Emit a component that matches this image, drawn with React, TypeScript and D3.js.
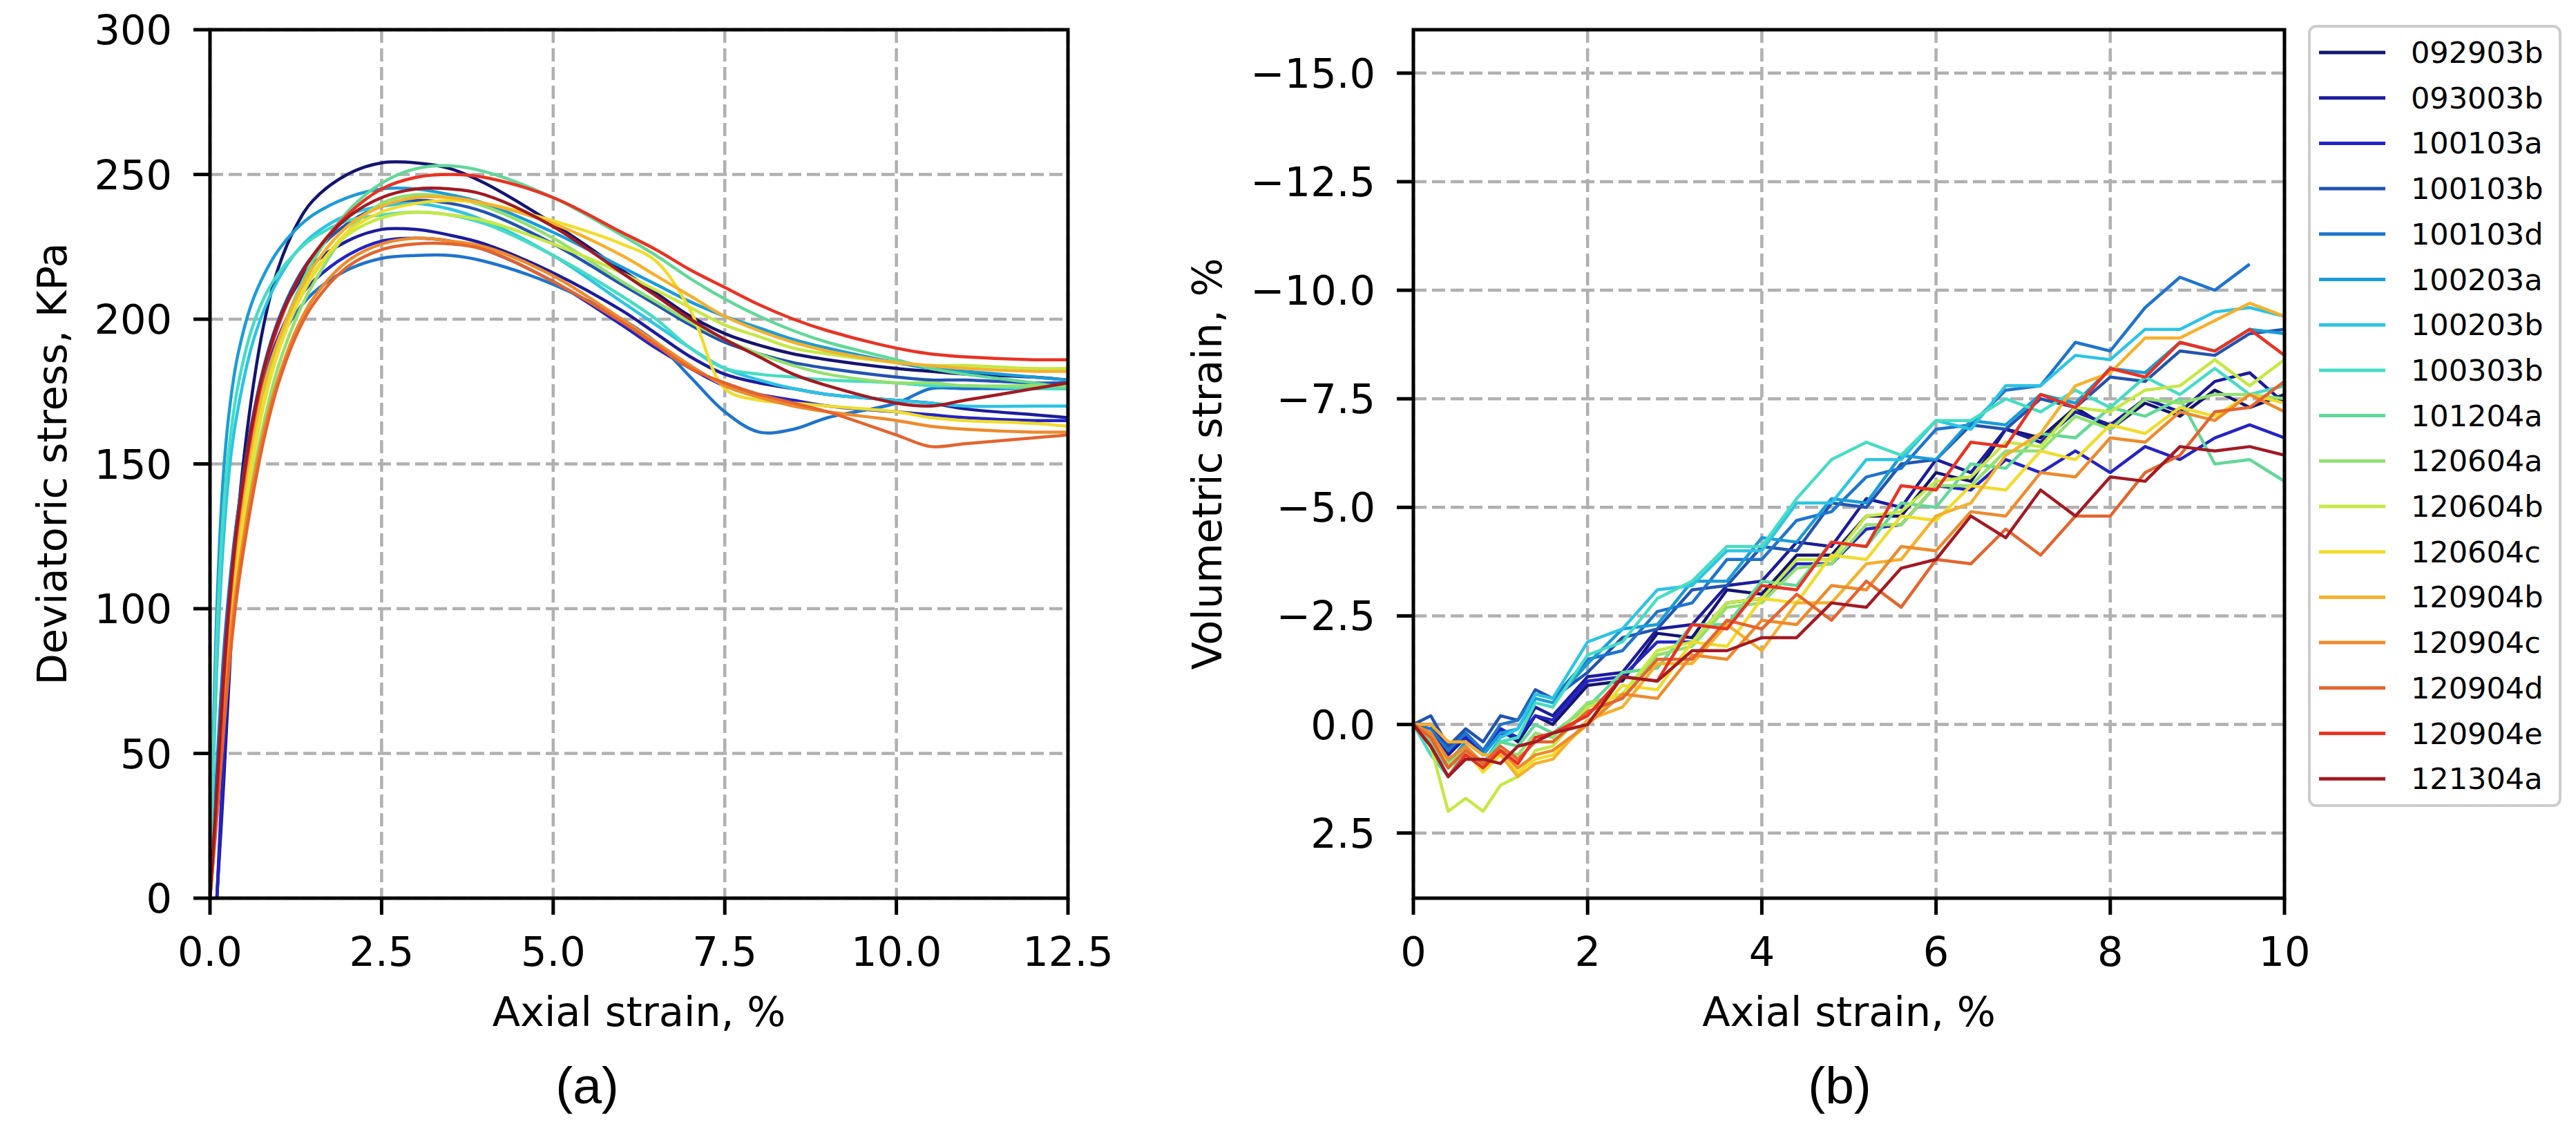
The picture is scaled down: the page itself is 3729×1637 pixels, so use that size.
import React from 'react';
import * as d3 from 'd3';

// ---------- data ----------
const SERIES = ['092903b', '093003b', '100103a', '100103b', '100103d', '100203a', '100203b', '100303b', '101204a', '120604a', '120604b', '120604c', '120904b', '120904c', '120904d', '120904e', '121304a'];

// panel (a): deviatoric stress (KPa) vs axial strain (%)
const XA = [0, 0.1, 0.2, 0.3, 0.4, 0.6, 0.8, 1.0, 1.25, 1.5, 2.0, 2.5, 3.0, 3.5, 4.0, 5.0, 6.0, 6.5, 7.0, 7.5, 8.0, 8.5, 9.0, 10.0, 10.5, 11.0, 12.0, 12.5];
const qa_092903b = [null, 0, 45, 95, 130, 172, 200, 218, 232, 241, 250, 254, 254, 252, 247, 233, 217, 209, 201, 195, 191, 188, 186, 183, 182, 181, 180, 179];
const qa_093003b = [null, 0, 40, 85, 118, 158, 183, 199, 211, 219, 227, 231, 231, 229, 226, 216, 203, 195, 187, 181, 178, 176, 174, 172, 171, 169, 167, 166];
const qa_100103a = [null, 0, 50, 92, 120, 156, 180, 194, 206, 213, 222, 227, 228, 227, 224, 213, 198, 190, 183, 177, 174, 172, 170, 168, 167, 166, 165, 165];
const qa_100103b = [0, 40, 80, 110, 132, 163, 185, 200, 213, 222, 233, 239, 241, 240, 237, 226, 212, 205, 198, 192, 188, 185, 183, 180, 179, 179, 178, 178];
const qa_100103d = [0, 45, 85, 112, 132, 160, 180, 192, 202, 209, 217, 221, 222, 222, 220, 212, 200, 192, 180, 168, 161, 162, 166, 171, 176, 176, 176, 176];
const qa_100203a = [0, 100, 148, 172, 187, 205, 216, 224, 231, 236, 242, 245, 245, 243, 240, 230, 218, 212, 206, 201, 197, 193, 190, 185, 183, 182, 180, 179];
const qa_100203b = [0, 80, 125, 152, 168, 190, 204, 214, 223, 229, 236, 239, 240, 238, 234, 222, 206, 198, 190, 183, 179, 176, 174, 172, 171, 170, 170, 170];
const qa_100303b = [0, 90, 135, 160, 176, 196, 208, 216, 223, 228, 234, 236, 237, 236, 233, 222, 208, 200, 190, 183, 181, 180, 179, 178, 177, 177, 176, 176];
const qa_101204a = [0, 30, 65, 95, 118, 150, 174, 192, 208, 220, 237, 247, 252, 253, 251, 242, 229, 222, 214, 207, 201, 196, 192, 186, 183, 181, 178, 176];
const qa_120604a = [0, 28, 60, 88, 110, 142, 166, 184, 200, 212, 230, 240, 243, 242, 239, 228, 213, 206, 199, 193, 188, 184, 181, 178, 178, 177, 177, 177];
const qa_120604b = [0, 32, 68, 98, 120, 152, 176, 192, 206, 216, 229, 235, 237, 236, 234, 226, 216, 210, 204, 198, 194, 190, 188, 185, 184, 184, 183, 183];
const qa_120604c = [0, 30, 64, 94, 116, 148, 172, 189, 204, 215, 230, 237, 240, 241, 240, 234, 226, 220, 203, 176, 172, 171, 170, 168, 166, 165, 164, 163];
const qa_120904b = [0, 35, 72, 102, 124, 156, 178, 193, 207, 218, 232, 239, 242, 242, 240, 233, 222, 215, 208, 201, 196, 192, 189, 185, 184, 183, 182, 182];
const qa_120904c = [0, 30, 62, 90, 110, 140, 163, 180, 196, 207, 220, 226, 228, 227, 225, 215, 200, 192, 184, 177, 173, 170, 168, 165, 163, 162, 161, 161];
const qa_120904d = [0, 28, 58, 85, 106, 136, 160, 178, 194, 205, 218, 224, 226, 226, 224, 213, 199, 191, 183, 178, 174, 171, 168, 160, 156, 157, 159, 160];
const qa_120904e = [0, 35, 75, 105, 128, 160, 183, 198, 212, 222, 236, 245, 249, 250, 249, 242, 230, 224, 217, 211, 205, 200, 196, 190, 188, 187, 186, 186];
const qa_121304a = [0, 38, 78, 108, 130, 162, 184, 199, 212, 222, 235, 242, 245, 245, 243, 232, 216, 208, 200, 193, 187, 181, 177, 171, 170, 172, 176, 178];

// panel (b): volumetric strain (%) vs axial strain (%)
const XB = [0, 0.2, 0.4, 0.6, 0.8, 1.0, 1.2, 1.4, 1.6, 2.0, 2.4, 2.8, 3.2, 3.6, 4.0, 4.4, 4.8, 5.2, 5.6, 6.0, 6.4, 6.8, 7.2, 7.6, 8.0, 8.4, 8.8, 9.2, 9.6, 10.0];
const ev_092903b = [0, 0.0, 0.5, 0.2, 0.6, 0.1, 0.4, -0.2, 0.0, -0.9, -1.0, -2.1, -2.0, -3.1, -3.0, -3.9, -3.9, -4.8, -4.8, -5.8, -5.6, -6.8, -6.6, -7.3, -6.8, -7.4, -7.1, -7.7, -7.3, -7.6];
const ev_093003b = [0, 0.2, 0.7, 0.3, 0.7, 0.2, 0.3, -0.4, -0.2, -1.1, -1.2, -2.2, -2.3, -3.2, -3.3, -4.2, -4.1, -5.2, -5.0, -6.1, -5.8, -6.8, -6.5, -7.2, -6.9, -7.5, -7.2, -7.9, -8.1, -7.4];
const ev_100103a = [0, 0.0, 0.6, 0.3, 0.6, 0.1, 0.3, -0.2, -0.1, -1.0, -1.1, -1.9, -1.9, -2.8, -2.9, -3.7, -3.7, -4.5, -4.6, -5.5, -5.4, -6.1, -5.8, -6.3, -5.8, -6.4, -6.1, -6.6, -6.9, -6.6];
const ev_100103b = [0, -0.2, 0.5, 0.1, 0.4, -0.2, -0.1, -0.8, -0.6, -1.2, -2.0, -2.2, -3.1, -3.2, -4.1, -4.0, -5.1, -5.0, -6.0, -6.1, -6.9, -6.8, -7.5, -7.3, -8.0, -7.9, -8.6, -8.5, -9.0, -9.1];
const ev_100103d = [0, 0.1, 0.6, 0.2, 0.6, 0.0, -0.1, -0.7, -0.6, -1.5, -1.7, -2.6, -2.8, -3.8, -3.8, -4.7, -4.9, -5.7, -5.9, -6.8, -6.9, -7.7, -7.8, -8.8, -8.6, -9.6, -10.3, -10.0, -10.6, null];
const ev_100203a = [0, 0.3, 0.9, 0.4, 0.7, 0.2, 0.1, -0.6, -0.5, -1.4, -2.2, -2.3, -3.3, -3.3, -4.3, -4.2, -5.2, -5.1, -6.2, -6.1, -7.0, -6.9, -7.6, -7.4, -8.2, -8.1, -8.8, -8.6, -9.1, -9.0];
const ev_100203b = [0, 0.5, 1.0, 0.5, 0.9, 0.3, 0.1, -0.7, -0.6, -1.9, -2.2, -3.1, -3.2, -4.0, -4.0, -5.1, -5.1, -6.1, -6.1, -7.0, -6.8, -7.8, -7.8, -8.5, -8.4, -9.1, -9.1, -9.5, -9.6, -9.4];
const ev_100303b = [0, 0.7, 1.2, 0.6, 1.0, 0.4, 0.3, -0.5, -0.4, -1.6, -1.9, -2.9, -3.3, -4.1, -4.1, -5.2, -6.1, -6.5, -6.2, -7.0, -7.0, -7.5, -7.2, -7.7, -7.3, -8.0, -7.6, -8.2, -7.6, -7.8];
const ev_101204a = [0, 0.4, 1.0, 0.5, 0.9, 0.4, 0.5, 0.0, 0.2, -0.4, -1.2, -1.3, -2.3, -2.3, -3.3, -3.2, -4.2, -4.1, -5.1, -5.0, -6.0, -5.9, -6.7, -6.6, -7.3, -7.1, -7.5, -6.0, -6.1, -5.6];
const ev_120604a = [0, 0.3, 0.9, 0.6, 1.0, 0.6, 0.7, 0.2, 0.3, -0.5, -0.7, -1.6, -1.8, -2.7, -2.8, -3.6, -3.7, -4.6, -4.6, -5.5, -5.5, -6.3, -6.3, -7.1, -6.8, -7.5, -7.4, -7.6, -7.6, -7.5];
const ev_120604b = [0, 0.5, 2.0, 1.7, 2.0, 1.4, 1.2, 0.6, 0.5, -0.4, -0.7, -1.7, -1.9, -2.8, -2.9, -3.8, -3.8, -4.8, -4.9, -5.6, -5.7, -6.5, -6.4, -7.3, -7.2, -7.7, -7.8, -8.4, -7.8, -8.4];
const ev_120604c = [0, 0.2, 1.0, 0.6, 1.1, 0.7, 1.1, 0.8, 0.7, 0.0, -0.9, -0.8, -1.9, -1.8, -2.9, -2.8, -3.9, -3.8, -4.8, -4.7, -5.5, -5.4, -6.3, -6.1, -6.9, -6.7, -7.3, -7.1, -7.6, -7.4];
const ev_120904b = [0, 0.0, 0.4, 0.4, 0.7, 0.7, 1.2, 0.9, 0.8, -0.1, -0.4, -1.4, -1.4, -2.3, -1.7, -2.8, -2.8, -3.7, -3.8, -4.8, -5.1, -6.2, -6.7, -7.8, -8.1, -8.9, -8.9, -9.3, -9.7, -9.4];
const ev_120904c = [0, 0.2, 0.8, 0.5, 0.9, 0.6, 1.0, 0.7, 0.6, 0.0, -0.7, -0.6, -1.6, -1.5, -2.4, -2.3, -3.2, -3.1, -4.1, -4.0, -4.9, -4.8, -5.8, -5.7, -6.6, -6.5, -7.2, -7.0, -7.6, -7.2];
const ev_120904d = [0, 0.3, 1.0, 0.6, 0.9, 0.5, 0.8, 0.4, 0.4, -0.3, -0.6, -1.5, -1.5, -2.4, -2.2, -3.0, -2.4, -3.3, -2.7, -3.8, -3.7, -4.5, -3.9, -4.8, -4.8, -5.8, -6.2, -7.2, -7.3, -7.9];
const ev_120904e = [0, 0.5, 1.2, 0.7, 1.0, 0.6, 0.9, 0.3, 0.2, -0.2, -1.1, -1.0, -2.3, -2.2, -3.2, -3.1, -4.2, -4.1, -5.5, -5.4, -6.5, -6.4, -7.6, -7.3, -8.2, -8.0, -8.8, -8.6, -9.1, -8.5];
const ev_121304a = [0, 0.5, 1.2, 0.8, 0.8, 0.9, 0.5, 0.4, 0.2, 0.0, -1.1, -1.0, -1.7, -1.7, -2.0, -2.0, -2.8, -2.7, -3.6, -3.8, -4.8, -4.3, -5.4, -4.8, -5.7, -5.6, -6.4, -6.3, -6.4, -6.2];

const STRESS = [qa_092903b, qa_093003b, qa_100103a, qa_100103b, qa_100103d, qa_100203a, qa_100203b, qa_100303b, qa_101204a, qa_120604a, qa_120604b, qa_120604c, qa_120904b, qa_120904c, qa_120904d, qa_120904e, qa_121304a];
const VOL = [ev_092903b, ev_093003b, ev_100103a, ev_100103b, ev_100103d, ev_100203a, ev_100203b, ev_100303b, ev_101204a, ev_120604a, ev_120604b, ev_120604c, ev_120904b, ev_120904c, ev_120904d, ev_120904e, ev_121304a];

const TICKS_AX = [0, 2.5, 5, 7.5, 10, 12.5];
const TICKS_AY = [0, 50, 100, 150, 200, 250, 300];
const TICKS_BX = [0, 2, 4, 6, 8, 10];
const TICKS_BY = [-15, -12.5, -10, -7.5, -5, -2.5, 0, 2.5];

// ---------- style ----------
const COLORS = ['#141470', '#1c1c9c', '#2424c4', '#2254b0', '#1e74cc', '#1a9cd8', '#2cc4e4', '#46dcc4', '#62d898', '#92e070', '#c6e844', '#f0dc2c', '#f6b02c', '#ee8a2c', '#e4642e', '#ea3222', '#a21a22'];
const W = 3729, H = 1637;
const FONT = 'DejaVu Sans, sans-serif';
const TICK_FS = 59;
const GRID = '#b0b0b0';

type Panel = {
  left: number; right: number; top: number; bottom: number;
  x: d3.ScaleLinear<number, number>; y: d3.ScaleLinear<number, number>;
  xt: number[]; yt: number[]; xfmt: (v: number) => string; yfmt: (v: number) => string;
  ylabel: string; ylabelX: number; id: string;
};

const fmt1 = (v: number) => d3.format('.1f')(v).replace('-', '\u2212');
const fmt0 = (v: number) => d3.format('d')(v);

function Axes({ p, children }: { p: Panel; children: React.ReactNode }) {
  const { left, right, top, bottom, x, y } = p;
  return (
    <g>
      <defs>
        <clipPath id={'clip' + p.id}>
          <rect x={left} y={top} width={right - left} height={bottom - top} />
        </clipPath>
      </defs>
      {p.xt.map((t) => (
        <line key={'gx' + t} x1={x(t)} x2={x(t)} y1={top} y2={bottom} stroke={GRID} strokeWidth={4.5} strokeDasharray="19,8" />
      ))}
      {p.yt.map((t) => (
        <line key={'gy' + t} x1={left} x2={right} y1={y(t)} y2={y(t)} stroke={GRID} strokeWidth={4.5} strokeDasharray="19,8" />
      ))}
      <g clipPath={`url(#clip${p.id})`}>{children}</g>
      <rect x={left} y={top} width={right - left} height={bottom - top} fill="none" stroke="#000" strokeWidth={5} />
      {p.xt.map((t) => (
        <g key={'tx' + t}>
          <line x1={x(t)} x2={x(t)} y1={bottom} y2={bottom + 24} stroke="#000" strokeWidth={5} />
          <text x={x(t)} y={1398} textAnchor="middle" fontFamily={FONT} fontSize={TICK_FS} fill="#000">{p.xfmt(t)}</text>
        </g>
      ))}
      {p.yt.map((t) => (
        <g key={'ty' + t}>
          <line x1={left - 24} x2={left} y1={y(t)} y2={y(t)} stroke="#000" strokeWidth={5} />
          <text x={left - 55} y={y(t) + 21} textAnchor="end" fontFamily={FONT} fontSize={TICK_FS} fill="#000">{p.yfmt(t)}</text>
        </g>
      ))}
      <text x={(left + right) / 2} y={1485} textAnchor="middle" fontFamily={FONT} fontSize={TICK_FS} fill="#000">Axial strain, %</text>
      <text transform={`translate(${p.ylabelX},${(top + bottom) / 2}) rotate(-90)`} textAnchor="middle" fontFamily={FONT} fontSize={TICK_FS} fill="#000">{p.ylabel}</text>
    </g>
  );
}

export default function App() {
  const pa: Panel = {
    left: 304, right: 1546, top: 43, bottom: 1300,
    x: d3.scaleLinear().domain([0, 12.5]).range([304, 1546]),
    y: d3.scaleLinear().domain([0, 300]).range([1300, 43]),
    xt: TICKS_AX, yt: TICKS_AY, xfmt: fmt1, yfmt: fmt0,
    ylabel: 'Deviatoric stress, KPa', ylabelX: 96, id: 'a',
  };
  const pb: Panel = {
    left: 2046, right: 3307, top: 43, bottom: 1300,
    x: d3.scaleLinear().domain([0, 10]).range([2046, 3307]),
    y: d3.scaleLinear().domain([4, -16]).range([1300, 43]),
    xt: TICKS_BX, yt: TICKS_BY, xfmt: fmt0, yfmt: fmt1,
    ylabel: 'Volumetric strain, %', ylabelX: 1768, id: 'b',
  };

  const lineA = d3.line<[number, number | null]>()
    .defined((d) => d[1] != null)
    .x((d) => pa.x(d[0]))
    .y((d) => pa.y(d[1] as number))
    .curve(d3.curveCatmullRom.alpha(0.5));
  const lineB = d3.line<[number, number | null]>()
    .defined((d) => d[1] != null)
    .x((d) => pb.x(d[0]))
    .y((d) => pb.y(d[1] as number))
    .curve(d3.curveLinear);

  const legX = 3343, legY = 38, legW = 363, legH = 1128;
  const rowY = (i: number) => 76 + i * 65.7;

  return (
    <svg width={W} height={H} style={{ position: 'absolute', left: 0, top: 0, background: '#fff' }} xmlns="http://www.w3.org/2000/svg">
      <rect x={0} y={0} width={W} height={H} fill="#fff" />
      <Axes p={pa}>
        {STRESS.map((s, i) => (
          <path key={SERIES[i]} d={lineA(XA.map((xv, j) => [xv, s[j]] as [number, number | null])) || ''} fill="none" stroke={COLORS[i]} strokeWidth={4.5} strokeLinejoin="round" />
        ))}
      </Axes>
      <Axes p={pb}>
        {VOL.map((s, i) => (
          <path key={SERIES[i]} d={lineB(XB.map((xv, j) => [xv, s[j]] as [number, number | null])) || ''} fill="none" stroke={COLORS[i]} strokeWidth={4.5} strokeLinejoin="round" />
        ))}
      </Axes>
      <g>
        <rect x={legX} y={legY} width={legW} height={legH} rx={10} ry={10} fill="#fff" stroke="#cccccc" strokeWidth={4} />
        {SERIES.map((name, i) => (
          <g key={name}>
            <line x1={3357} x2={3453} y1={rowY(i)} y2={rowY(i)} stroke={COLORS[i]} strokeWidth={5} />
            <text x={3490} y={rowY(i) + 15} fontFamily={FONT} fontSize={43} fill="#000">{name}</text>
          </g>
        ))}
      </g>
      <text x={850} y={1597} textAnchor="middle" fontFamily="Liberation Sans, Arial, sans-serif" fontSize={75} fill="#000">(a)</text>
      <text x={2663} y={1597} textAnchor="middle" fontFamily="Liberation Sans, Arial, sans-serif" fontSize={75} fill="#000">(b)</text>
    </svg>
  );
}
